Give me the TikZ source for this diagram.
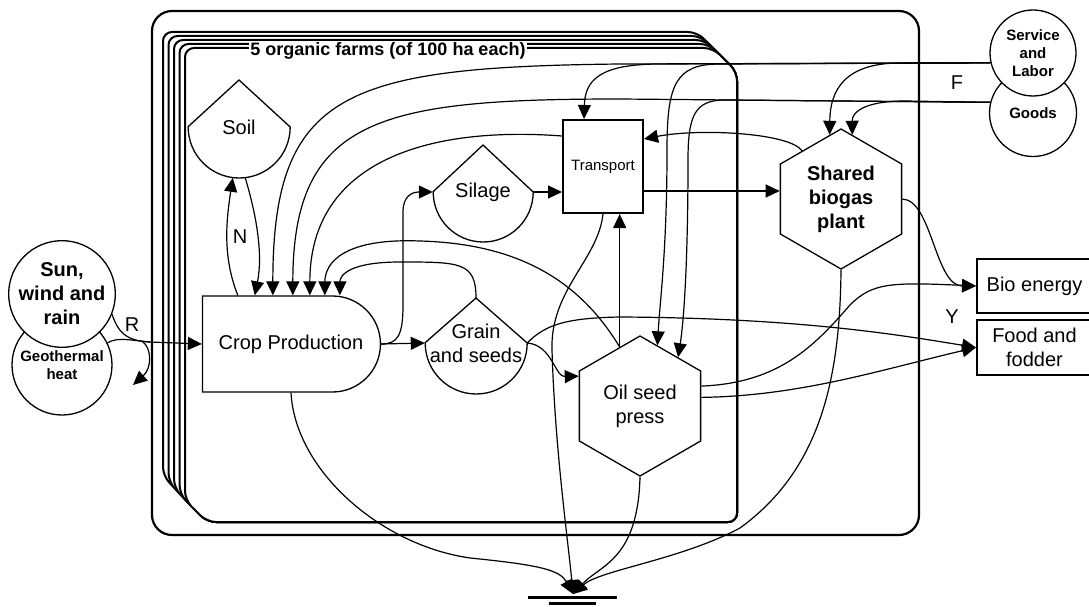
\documentclass[tikz,border=0pt]{standalone}
\usepackage{fontspec}
\setmainfont{Liberation Sans}
\usetikzlibrary{positioning, arrows.meta, shapes.geometric, shapes.misc, calc}

\begin{document}
\begin{tikzpicture}[x=1pt, y=-1pt, font=\fontsize{20}{24}\selectfont,
	flow/.style={-{Triangle[length=14pt, width=13pt]}, line width=1.2pt},
	link/.style={line width=1.2pt},
	shapeline/.style={line width=1.3pt},
	box/.style={draw, line width=1.3pt, fill=white, inner sep=0pt, align=center},
	outbox/.style={draw, line width=2pt, fill=white, inner sep=0pt, align=center},
	hexa/.style={draw, line width=1.3pt, fill=white, regular polygon, regular polygon sides=6, shape border rotate=30, minimum size=140pt, inner sep=0pt, align=center},
	src/.style={draw, circle, line width=1.3pt, fill=white, inner sep=0pt, align=center, font=\bfseries\fontsize{15}{18}\selectfont},
	tank/.style={circle, inner sep=0pt, align=center},
	farmcard/.style={draw, line width=2pt, fill=white, rounded corners=9pt}
	]
	\useasboundingbox (0,0) rectangle (1089,607);

	% System boundary and the stack of farms
	\draw[line width=2.2pt, rounded corners=20pt] (152,11) rectangle (919,535);
	\foreach \k in {4,3,2,1,0}
		\draw[farmcard] ({185-5.5*\k},{500-6*\k}) -- ({185-5.5*\k},{48-4*\k}) -- ({713-4*\k},{48-4*\k}) -- (737,72) -- (737,522) -- (207,522) -- cycle;
	\node[font=\bfseries\fontsize{18}{20}\selectfont, fill=white, inner sep=1pt] (farmtitle) at (388,51) {5 organic farms (of 100 ha each)};

	% Sources
	\node[src, minimum size=100pt] (geo) at (62,365) {Geothermal\\heat};
	\node[src, minimum size=96pt, font=\bfseries\fontsize{20}{24}\selectfont] (sun) at (62,294) {Sun,\\wind and\\rain};
	\node[src, minimum size=87pt] (goods) at (1033,113) {Goods};
	\node[src, minimum size=86pt] (service) at (1033,53) {Service\\and\\Labor};

	% Storages
	\node[tank, minimum size=102pt] (soil) at (239,127) {Soil};
	\draw[shapeline] (soil.west) -- ([yshift=47pt]soil.center) -- (soil.east) arc[start angle=0, end angle=-180, radius=51pt];
	\node[tank, minimum size=100pt] (silage) at (483,192) {Silage};
	\draw[shapeline] (silage.west) -- ([yshift=47pt]silage.center) -- (silage.east) arc[start angle=0, end angle=-180, radius=50pt];
	\node[tank, minimum size=102pt] (grain) at (476,343) {Grain\\and seeds};
	\coordinate (graintop) at ([yshift=45pt]grain.center);
	\draw[shapeline] (grain.west) -- (graintop) -- (grain.east) arc[start angle=0, end angle=-180, radius=51pt];

	% Processes
	\node[box, rounded rectangle, rounded rectangle left arc=none, minimum width=178pt, minimum height=96pt] (crop) at (291,344) {Crop Production};
	\node[outbox, minimum width=80pt, minimum height=93pt, font=\fontsize{15}{18}\selectfont] (transport) at (603,166.5) {Transport};
	\node[hexa] (oil) at (640,406) {Oil seed\\press};
	\node[hexa, font=\bfseries\fontsize{20}{24}\selectfont] (biogas) at (841,199) {Shared\\biogas\\plant};

	% Yields
	\node[outbox, minimum width=115pt, minimum height=54pt] (bioenergy) at (1034.5,286) {Bio energy};
	\node[outbox, minimum width=115pt, minimum height=55pt] (food) at (1034.5,347.5) {Food and\\fodder};

	% Labels
	\node (lblR) at (132,325) {R};
	\node (lblN) at (240,237) {N};
	\node (lblF) at (957,83) {F};
	\node (lblY) at (952,317) {Y};

	% Renewable inputs
	\coordinate (jR) at (150,342);
	\coordinate (jR0) at (142,341);
	\coordinate (Rout) at (133,385);
	\draw[link] (geo.26) .. controls (118,337) and (128,340) .. (jR);
	\draw[flow] (sun.-22) .. controls (118,332) and (126,341) .. (jR) -- (crop.west);
	\draw[flow] (jR0) .. controls (152,348) and (152,368) .. (Rout);

	% Flows into crop production
	\foreach \n/\dx in {1/53, 2/71, 3/91, 4/108, 5/123, 6/138}
		\coordinate (in\n) at ($(crop.north -| crop.west)+(\dx,0)$);
	\coordinate (cropN) at ($(crop.north -| crop.west)+(36,0)$);
	\draw[flow] (cropN) .. controls +(-16,-40) and +(-6,40) .. (soil.-97);
	\draw[flow] (soil.-83) .. controls +(12,40) and +(8,-40) .. (in1);
	\draw[flow] (service.193) -- (620,64) .. controls (345,67) and (273,92) .. (in2);
	\draw[flow] (goods.166) -- (620,99) .. controls (380,99) and (293,118) .. (in3);
	\draw[flow] ([yshift=-17pt]transport.north west) .. controls (430,126) and (310,160) .. (in4);
	\draw[flow] (oil.109) .. controls (585,290) and (530,244) .. (420,241) .. controls (345,238) and (325,262) .. (in5);
	\draw[flow] (graintop) .. controls (476,262) and (460,262) .. (400,262) .. controls (350,262) and (340,275) .. (in6);

	% Crops to storages
	\draw[flow] (crop.east) -- (grain.west);
	\draw[flow] (crop.east) .. controls (398,344) and (403,335) .. (403,305) -- (403,212) .. controls (403,196) and (412,192) .. (silage.west);
	\draw[flow] (silage.east) -- (silage.east -| transport.west);

	% Transport and biogas
	\coordinate (bgin) at ([yshift=8pt]biogas.west);
	\draw[flow] (bgin -| transport.east) -- (bgin);
	\draw[flow] (biogas.129) .. controls (790,133) and (700,128) .. ([yshift=-20pt]transport.north east);
	\draw[flow] (oil.109) -- (oil.109 |- transport.south);

	% Purchased inputs
	\draw[flow] (service.193) -- (660,64) .. controls (600,64) and (585,80) .. ([xshift=22pt]transport.north west);
	\draw[flow] (service.193) -- (900,63) .. controls (845,63) and (830,90) .. (biogas.100);
	\draw[flow] (goods.166) -- (905,101) .. controls (865,101) and (852,112) .. (biogas.80);
	\draw[flow] (service.193) -- (720,64) .. controls (675,64) and (667,85) .. (667,150) .. controls (667,250) and (660,300) .. (oil.74);
	\draw[flow] (goods.166) -- (725,100) .. controls (695,100) and (688,115) .. (688,160) .. controls (688,260) and (684,320) .. (oil.52);

	% Grain and oil seeds
	\draw[flow] (grain.east) .. controls (552,345) and (555,377) .. (oil.154);
	\draw[flow] (grain.east) .. controls (545,325) and (565,318) .. (620,317) .. controls (800,318) and (900,335) .. (food.west);

	% Yields
	\draw[flow] (oil.18) .. controls (780,383) and (815,345) .. (850,305) .. controls (872,283) and (890,282) .. (bioenergy.west);
	\draw[flow] (oil.8) .. controls (800,396) and (880,370) .. (food.west);
	\draw[flow] (biogas.0) .. controls (932,200) and (935,286) .. (bioenergy.west);

	% Heat sink
	\coordinate (sink) at (573,594);
	\draw[flow] (crop.south) .. controls (295,470) and (380,545) .. (470,558) .. controls (540,565) and (560,570) .. (sink);
	\draw[flow] (transport.south) .. controls (598,260) and (550,290) .. (552,350) .. controls (555,450) and (568,540) .. (sink);
	\draw[flow] (oil.south) .. controls (638,560) and (600,565) .. (sink);
	\draw[flow] (biogas.south) .. controls (840,380) and (820,470) .. (740,528) .. controls (680,560) and (600,570) .. (sink);
	\draw[line width=3pt] ($(sink)+(-45,3)$) -- ($(sink)+(44,3)$);
	\draw[line width=3pt] ($(sink)+(-24,9)$) -- ($(sink)+(23,9)$);
\end{tikzpicture}
\end{document}
